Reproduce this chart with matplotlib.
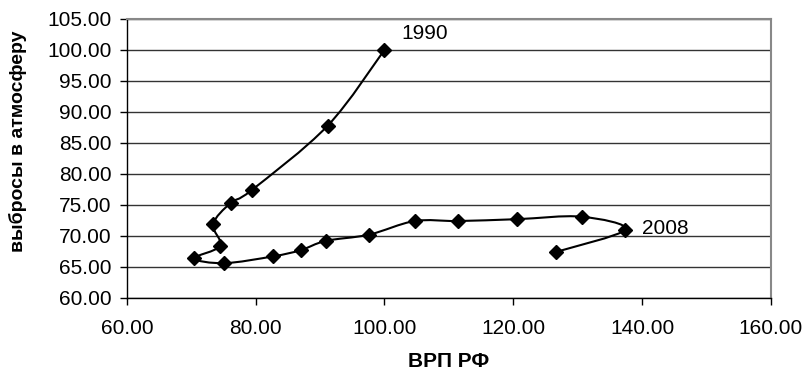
import numpy as np
import matplotlib
matplotlib.use("Agg")
import matplotlib.pyplot as plt
from matplotlib.path import Path
from matplotlib.patches import PathPatch

# ВРП РФ (x) vs выбросы в атмосферу (y), 1990 = 100
grp = [100.0, 91.2, 79.4, 76.1, 73.4, 74.5, 70.5, 75.1, 82.7, 87.0, 90.9,
       97.6, 104.7, 111.4, 120.6, 130.6, 137.4, 126.6]
emissions = [100.0, 87.8, 77.4, 75.3, 71.9, 68.4, 66.4, 65.6, 66.7, 67.7,
             69.2, 70.2, 72.4, 72.4, 72.7, 73.1, 71.0, 67.4]
point_labels = {0: "1990", 16: "2008"}

x_ticks = [60, 80, 100, 120, 140, 160]
y_ticks = [60, 65, 70, 75, 80, 85, 90, 95, 100, 105]


def smooth_path(xs, ys):
    # Excel-like smoothed line: Catmull-Rom segments as cubic Bezier curves
    pts = np.column_stack([xs, ys])
    n = len(pts)
    verts = [pts[0]]
    codes = [Path.MOVETO]
    for i in range(n - 1):
        p0 = pts[max(i - 1, 0)]
        p1 = pts[i]
        p2 = pts[i + 1]
        p3 = pts[min(i + 2, n - 1)]
        c1 = p1 + (p2 - p0) / 6.0
        c2 = p2 - (p3 - p1) / 6.0
        verts += [c1, c2, p2]
        codes += [Path.CURVE4] * 3
    return Path(verts, codes)


plt.rcParams["font.family"] = ["Liberation Sans", "DejaVu Sans"]

fig = plt.figure(figsize=(8.08, 3.79), dpi=100)
ax = fig.add_axes([0.157, 0.214, 0.797, 0.736])

ax.add_patch(PathPatch(smooth_path(grp, emissions), fill=False,
                       edgecolor="black", linewidth=1.5, zorder=3))
ax.plot(grp, emissions, linestyle="none", marker="D", markersize=7,
        color="black", zorder=4)

for i, txt in point_labels.items():
    ax.annotate(txt, (grp[i], emissions[i]), xytext=(12, 12 if i == 0 else 1),
                textcoords="offset points", fontsize=15, va="center",
                ha="left")

ax.set_xlim(60, 160)
ax.set_ylim(60, 105)
ax.set_xticks(x_ticks)
ax.set_yticks(y_ticks)
ax.set_xticklabels([f"{v:.2f}" for v in x_ticks], fontsize=15)
ax.set_yticklabels([f"{v:.2f}" for v in y_ticks], fontsize=15)
ax.tick_params(direction="out", length=5, width=1, colors="black", pad=6)
ax.tick_params(axis="x", pad=10)

ax.grid(axis="y", color="#333333", linewidth=1)
ax.set_axisbelow(True)
for side in ["top", "right"]:
    ax.spines[side].set_color("#888888")
    ax.spines[side].set_linewidth(1.5)
for side in ["left", "bottom"]:
    ax.spines[side].set_color("black")
    ax.spines[side].set_linewidth(1)

ax.set_xlabel("ВРП РФ", fontsize=15, fontweight="bold", va="center")
ax.xaxis.set_label_coords(0.5, -0.229)
ax.set_ylabel("выбросы в атмосферу", fontsize=14, fontweight="bold",
              va="center", ha="center")
ax.yaxis.set_label_coords(-0.169, 0.563)

fig.savefig("out.png", dpi=100)
